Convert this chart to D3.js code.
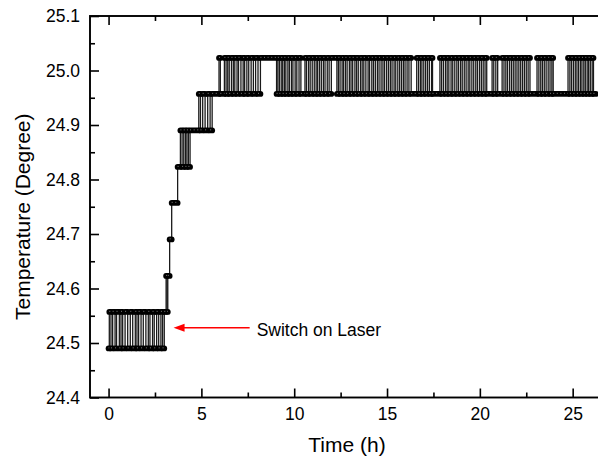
<!DOCTYPE html>
<html><head><meta charset="utf-8">
<script src="https://cdn.jsdelivr.net/npm/d3@7/dist/d3.min.js"></script>
<style>html,body{margin:0;padding:0;background:#fff;overflow:hidden}</style>
</head><body>
<svg id="chart" width="598" height="463"></svg>
<script>
// Quantized temperature levels of the sensor (degree)
const levels = [24.490, 24.557, 24.623, 24.690, 24.757, 24.823, 24.890, 24.957, 25.023];

// Change points of the recorded series: time (h) and level index reached at that time
const switchTimes = [
  0, 0.04,0.13,0.22,0.35,0.43,0.58,0.67,0.76,0.89,1.03,1.17,1.30,1.44,1.53,1.62,1.75,1.87,2.01,2.14,2.23,2.37,2.46,2.59,2.70,2.82,2.91,3.00,
  3.10,3.15,3.19,3.29,3.40,3.72,3.87,3.96,4.05,4.14,4.22,4.30,4.39,4.86,4.95,5.07,5.20,5.34,5.47,5.58,
  5.95,6.02,6.24,6.33,6.42,6.50,6.62,6.72,6.80,6.92,7.00,7.13,7.25,7.33,7.45,7.55,7.68,7.80,7.92,8.05,8.18,
  9.05,9.12,9.20,9.30,9.38,9.47,9.55,9.66,9.74,9.85,9.93,10.05,10.14,10.26,10.36,
  10.58,10.66,10.77,10.86,10.97,11.08,11.18,11.26,11.36,11.46,11.57,11.66,11.78,11.88,12.00,
  12.30,12.38,12.47,12.58,12.66,12.76,12.85,12.97,13.06,13.15,13.27,13.36,13.45,13.57,13.66,13.75,13.86,13.98,14.06,14.18,
  14.27,14.37,14.48,14.57,14.68,14.78,14.87,14.98,15.08,15.18,15.27,15.38,15.47,15.58,15.68,15.78,15.88,15.97,16.08,16.18,16.30,
  16.60,16.70,16.80,16.88,16.98,17.08,17.18,17.28,17.40,17.45,
  17.85,17.94,18.04,18.15,18.24,18.33,18.45,18.54,18.65,18.76,18.85,18.96,19.05,19.16,19.26,19.37,19.46,19.57,19.67,19.78,19.87,19.98,20.08,20.18,20.28,20.37,
  20.66,20.75,20.86,20.96,
  21.20,21.30,21.40,21.49,21.60,21.70,21.80,21.90,22.00,22.10,22.20,22.30,22.40,22.50,22.60,22.70,
  23.08,23.18,23.28,23.37,23.47,23.57,23.68,23.78,23.88,23.95,
  24.75,24.85,24.94,25.04,25.14,25.23,25.32,25.42,25.50,25.60,25.68,25.78,25.86,25.95,26.05,26.12
];
const switchLevels = [
  0, 1,0,1,0,1,0,1,0,1,0,1,0,1,0,1,0,1,0,1,0,1,0,1,0,1,0,1,
  2,1,2,3,4,5,6,5,6,5,6,5,6,7,6,7,6,7,6,7,
  8,7,8,7,8,7,8,7,8,7,8,7,8,7,8,7,8,7,8,7,8,
  7,8,7,8,7,8,7,8,7,8,7,8,7,8,7,
  8,7,8,7,8,7,8,7,8,7,8,7,8,7,8,
  7,8,7,8,7,8,7,8,7,8,7,8,7,8,7,8,7,8,7,8,
  7,8,7,8,7,8,7,8,7,8,7,8,7,8,7,8,7,8,7,8,7,
  8,7,8,7,8,7,8,7,8,7,
  8,7,8,7,8,7,8,7,8,7,8,7,8,7,8,7,8,7,8,7,8,7,8,7,8,7,
  8,7,8,7,
  8,7,8,7,8,7,8,7,8,7,8,7,8,7,8,7,
  8,7,8,7,8,7,8,7,8,7,
  8,7,8,7,8,7,8,7,8,7,8,7,8,7,8,7
];
const endTime = 26.25;

const xTicks = [0, 5, 10, 15, 20, 25];
const xMinorTicks = [2.5, 7.5, 12.5, 17.5, 22.5];
const yTicks = [24.4, 24.5, 24.6, 24.7, 24.8, 24.9, 25.0, 25.1];
const yMinorTicks = [24.45, 24.55, 24.65, 24.75, 24.85, 24.95, 25.05];
const xDomain = [-1, 27];
const yDomain = [24.4, 25.1];
const xTitle = "Time (h)";
const yTitle = "Temperature (Degree)";
const noteText = "Switch on Laser";
const noteTip = [3.5, 24.528];
const noteTail = [7.6, 24.528];

const svg = d3.select("#chart");
const FONT = "'Liberation Sans', Arial, Helvetica, sans-serif";
const L = 90, R = 609.8, T = 16, B = 397.5;
const x = d3.scaleLinear().domain(xDomain).range([L, R]);
const y = d3.scaleLinear().domain(yDomain).range([B, T]);

// runs and steps
const n = switchTimes.length;
const runs = switchTimes.map((t, i) => ({t0: t, t1: i < n - 1 ? switchTimes[i + 1] : endTime, v: levels[switchLevels[i]]}));
const steps = switchTimes.slice(1).map((t, i) => ({t, v0: levels[switchLevels[i]], v1: levels[switchLevels[i + 1]]}));

const plot = svg.append("g");
plot.selectAll("line.step").data(steps).join("line")
  .attr("class", "step")
  .attr("x1", d => x(d.t)).attr("x2", d => x(d.t))
  .attr("y1", d => y(d.v0)).attr("y2", d => y(d.v1))
  .attr("stroke", "#1a1a1a").attr("stroke-width", 1.3);
plot.selectAll("line.run").data(runs).join("line")
  .attr("class", "run")
  .attr("x1", d => x(d.t0)).attr("x2", d => x(d.t1))
  .attr("y1", d => y(d.v)).attr("y2", d => y(d.v))
  .attr("stroke", "#000").attr("stroke-width", 5.8).attr("stroke-linecap", "round");
plot.selectAll("line.spk").data(runs).join("line")
  .attr("class", "spk")
  .attr("x1", d => x(d.t0)).attr("x2", d => x(d.t1))
  .attr("y1", d => y(d.v) - 0.6).attr("y2", d => y(d.v) - 0.6)
  .attr("stroke", "#9a9a9a").attr("stroke-width", 0.8).attr("stroke-dasharray", "1 2.6");

// axes (ticks inward)
function styleAxis(g) {
  g.selectAll("path.domain").remove();
  g.selectAll("line").attr("stroke", "#000").attr("stroke-width", 1.6);
  g.selectAll("text").attr("font-family", FONT).attr("font-size", 17.5).attr("fill", "#000");
}
svg.append("g").attr("transform", `translate(0,${B})`)
  .call(d3.axisBottom(x).tickValues(xTicks).tickSize(-9).tickPadding(10.5).tickFormat(d3.format("d")))
  .call(styleAxis);
svg.append("g").attr("transform", `translate(0,${B})`)
  .call(d3.axisBottom(x).tickValues(xMinorTicks).tickSize(-5).tickFormat(""))
  .call(styleAxis);
svg.append("g").attr("transform", `translate(0,${T})`)
  .call(d3.axisTop(x).tickValues(xTicks).tickSize(-9).tickFormat(""))
  .call(styleAxis);
svg.append("g").attr("transform", `translate(0,${T})`)
  .call(d3.axisTop(x).tickValues(xMinorTicks).tickSize(-5).tickFormat(""))
  .call(styleAxis);
svg.append("g").attr("transform", `translate(${L},0)`)
  .call(d3.axisLeft(y).tickValues(yTicks).tickSize(-9).tickPadding(10).tickFormat(d3.format(".1f")))
  .call(styleAxis);
svg.append("g").attr("transform", `translate(${L},0)`)
  .call(d3.axisLeft(y).tickValues(yMinorTicks).tickSize(-5).tickFormat(""))
  .call(styleAxis);

// frame
svg.append("rect").attr("x", L).attr("y", T).attr("width", R - L).attr("height", B - T)
  .attr("fill", "none").attr("stroke", "#000").attr("stroke-width", 1.9);

// titles
svg.append("text").attr("x", 347).attr("y", 452).attr("text-anchor", "middle")
  .attr("font-family", FONT).attr("font-size", 21).text(xTitle);
svg.append("text").attr("transform", `translate(30,${(T + B) / 2 + 10}) rotate(-90)`)
  .attr("text-anchor", "middle").attr("font-family", FONT).attr("font-size", 21).text(yTitle);

// annotation
svg.append("line")
  .attr("x1", x(noteTail[0])).attr("y1", y(noteTail[1]))
  .attr("x2", x(noteTip[0]) + 9).attr("y2", y(noteTip[1]))
  .attr("stroke", "#ff0000").attr("stroke-width", 1.5);
const tx = x(noteTip[0]), ty = y(noteTip[1]);
svg.append("path").attr("d", `M${tx},${ty} L${tx + 11},${ty - 4} L${tx + 11},${ty + 4} Z`).attr("fill", "#ff0000");
svg.append("text").attr("x", x(noteTail[0]) + 7).attr("y", ty + 8)
  .attr("font-family", FONT).attr("font-size", 17.5).text(noteText);
</script>
</body></html>
